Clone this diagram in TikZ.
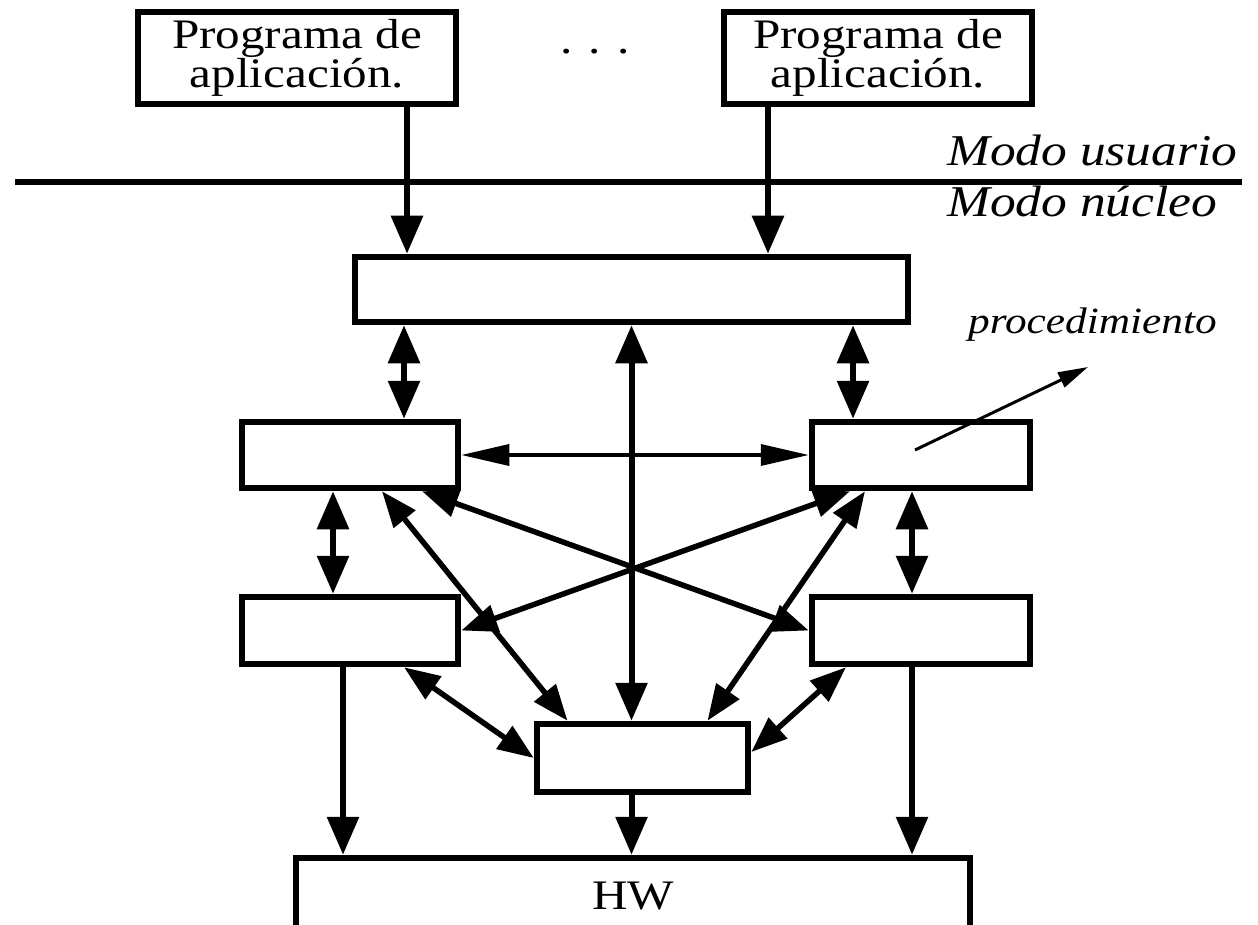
\documentclass[tikz,border=0pt]{standalone}
\usepackage{fontspec}
\setmainfont{Liberation Serif}[FakeStretch=1.17]
\usetikzlibrary{arrows.meta}
\begin{document}
\begin{tikzpicture}[x=1pt,y=-1pt,
  box/.style={draw, line width=6.5pt, inner sep=0pt},
  txt/.style={font=\fontsize{42}{36}\selectfont, align=center},
  ital/.style={inner sep=0pt, anchor=base west},
  vA/.style={line width=6pt, -{Triangle[length=38pt,width=31pt]}},
  vAA/.style={line width=6pt, {Triangle[length=38pt,width=31pt]}-{Triangle[length=38pt,width=31pt]}},
  dAA/.style={line width=5.5pt, {Triangle[length=36pt,width=27pt]}-{Triangle[length=36pt,width=27pt]}},
  hAA/.style={line width=3.5pt, {Triangle[length=48pt,width=21pt]}-{Triangle[length=48pt,width=21pt]}},
  pA/.style={line width=3pt, -{Triangle[length=30pt,width=16pt]}}]
\fill[white] (0,0) rectangle (1258,925);
\useasboundingbox (0,0) rectangle (1258,925);

% boxes
\node[box,txt,minimum width=318,minimum height=92] (p1) at (297,58) {Programa de\\aplicación.};
\node[box,txt,minimum width=308,minimum height=92] (p2) at (878,58) {Programa de\\aplicación.};
\node[font=\fontsize{42}{42}\selectfont, inner sep=0pt, anchor=base] (dots) at (595,54) {. . .};
\node[box,minimum width=553,minimum height=65] (big) at (631.5,289.5) {};
\node[box,minimum width=216,minimum height=66] (L1) at (350,455) {};
\node[box,minimum width=218,minimum height=66] (R1) at (921,455) {};
\node[box,minimum width=216,minimum height=67] (L2) at (350,630.5) {};
\node[box,minimum width=218,minimum height=67] (R2) at (921,630.5) {};
\node[box,minimum width=211,minimum height=68] (C) at (642.5,758) {};
\node[box,minimum width=674,minimum height=76,font=\fontsize{42}{42}\selectfont] (HW) at (633,896) {HW};

% mode separator
\coordinate (sepL) at (15,182);
\coordinate (sepR) at (1242,182);
\draw[line width=6pt] (sepL) -- (sepR);
\node[ital,font=\fontsize{44}{44}\selectfont\itshape] (mu) at (947,166) {Modo usuario};
\node[ital,font=\fontsize{44}{44}\selectfont\itshape] (mn) at (947,217) {Modo núcleo};
\node[ital,font=\fontsize{37}{37}\selectfont\itshape] (proc) at (968,334) {procedimiento};

% vertical connectors
\coordinate (xa) at ([xshift=110pt]p1.south);
\draw[vA] (xa) -- (xa |- big.north);
\coordinate (xb) at ([xshift=-110pt]p2.south);
\draw[vA] (xb) -- (xb |- big.north);
\coordinate (xc) at ([xshift=54pt]L1.north);
\draw[vAA] (xc |- big.south) -- (xc);
\coordinate (xd) at ([xshift=-68pt]R1.north);
\draw[vAA] (xd |- big.south) -- (xd);
\draw[vAA] (big.south) -- (big.south |- C.north);
\coordinate (xe) at ([xshift=-17pt]L1.south);
\draw[vAA] (xe) -- (xe |- L2.north);
\coordinate (xf) at ([xshift=-9pt]R1.south);
\draw[vAA] (xf) -- (xf |- R2.north);
\coordinate (xg) at ([xshift=-7pt]L2.south);
\draw[vA] (xg) -- (xg |- HW.north);
\coordinate (xh) at ([xshift=-9pt]R2.south);
\draw[vA] (xh) -- (xh |- HW.north);
\coordinate (xi) at ([xshift=-11pt]C.south);
\draw[vA] (xi) -- (xi |- HW.north);

% horizontal
\draw[hAA] (L1.east) -- (R1.west);

% diagonals
\draw[dAA] ([xshift=72pt]L1.south) -- (R2.west);
\draw[dAA] ([xshift=-71pt]R1.south) -- (L2.east);
\draw[dAA] ([xshift=32pt]L1.south) -- ([xshift=-75pt]C.north);
\draw[dAA] ([xshift=-56pt]R1.south) -- ([xshift=65pt]C.north);
\draw[dAA] ([xshift=54pt]L2.south) -- (C.west);
\draw[dAA] ([xshift=-75pt]R2.south) -- ([yshift=6pt]C.east);

% procedimiento arrow
\coordinate (ptip) at (1088,367);
\draw[pA] ([shift={(-6pt,5pt)}]R1.center) -- (ptip);
\end{tikzpicture}
\end{document}
